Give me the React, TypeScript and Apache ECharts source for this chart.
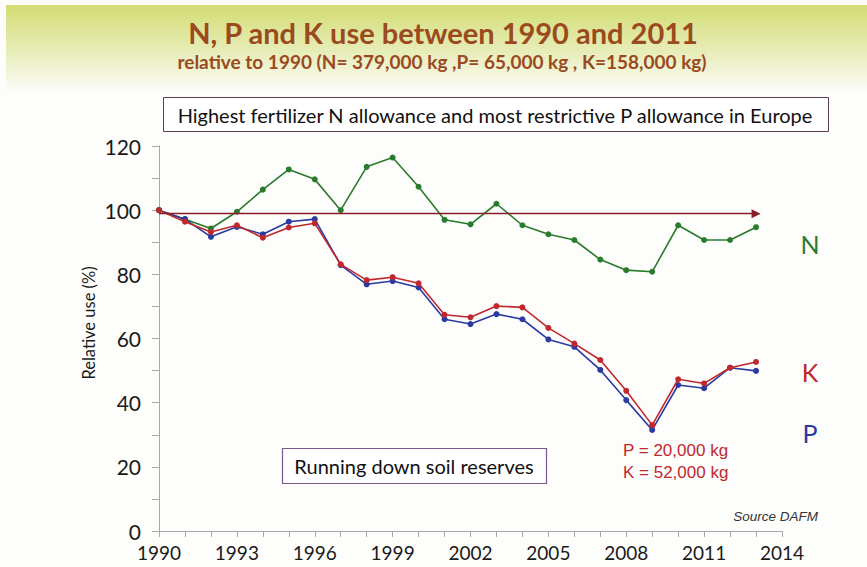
import React, { useEffect, useRef } from "react";
import * as echarts from "echarts";

const years = [
  "1990","1991","1992","1993","1994","1995","1996","1997","1998","1999","2000","2001",
  "2002","2003","2004","2005","2006","2007","2008","2009","2010","2011","2012","2013","2014",
];
const nValues = [
  100, 97.2, 94.3, 99.5, 106.4, 112.7, 109.6, 100, 113.5, 116.4, 107.3, 97,
  95.6, 102, 95.3, 92.5, 90.7, 84.6, 81.3, 80.8, 95.3, 90.7, 90.7, 94.7,
];
const pValues = [
  100, 97.2, 91.7, 94.8, 92.5, 96.4, 97.2, 82.9, 76.9, 77.9, 75.9, 66,
  64.5, 67.6, 66, 59.7, 57.4, 50.2, 40.8, 31.5, 45.5, 44.5, 50.9, 49.9,
];
const kValues = [
  100, 96.4, 93.2, 95.3, 91.4, 94.6, 95.9, 83.1, 78.2, 79.1, 77.2, 67.4,
  66.6, 70.1, 69.7, 63.3, 58.4, 53.3, 43.7, 33, 47.3, 46, 50.9, 52.7,
];
const referenceLevel = 98.9;

const GREEN = "#2a7b2c";
const RED = "#c0282e";
const BLUE = "#2b3a9f";
const BROWN = "#9a4a1e";
const FONT = "Lato";

export default function App() {
  const ref = useRef<HTMLDivElement>(null);
  useEffect(() => {
    document.body.style.margin = "0";
    const chart = echarts.init(ref.current!, null, { renderer: "svg" });
    const lineSeries = (name: string, data: number[], color: string, z: number) => ({
      name,
      type: "line",
      data,
      z,
      symbol: "circle",
      symbolSize: 6,
      lineStyle: { color, width: 1.6 },
      itemStyle: { color },
    });
    chart.setOption({
      animation: false,
      backgroundColor: "#fdfdfb",
      grid: { left: 159, right: 85, top: 146, bottom: 36, containLabel: false },
      xAxis: {
        type: "category",
        data: years,
        boundaryGap: false,
        axisLine: { lineStyle: { color: "#a8a8a8", width: 1 } },
        axisTick: { show: true, interval: 0, length: 6, lineStyle: { color: "#a8a8a8" } },
        axisLabel: {
          interval: 2,
          fontFamily: FONT,
          fontSize: 19,
          color: "#1a1a1a",
          margin: 12,
        },
        splitLine: { show: false },
      },
      yAxis: {
        type: "value",
        min: 0,
        max: 120,
        interval: 20,
        axisLine: { show: true, lineStyle: { color: "#a8a8a8", width: 1 } },
        axisTick: { show: true, length: 7, lineStyle: { color: "#a8a8a8" } },
        minorTick: { show: true, splitNumber: 2, length: 7, lineStyle: { color: "#a8a8a8" } },
        axisLabel: { fontFamily: FONT, fontSize: 21, color: "#1a1a1a", margin: 18 },
        splitLine: { show: false },
      },
      series: [
        {
          ...lineSeries("N", nValues, GREEN, 2),
          markLine: {
            silent: true,
            symbol: ["none", "triangle"],
            symbolSize: 9,
            symbolOffset: [0, 0],
            label: { show: false },
            lineStyle: { color: "#8a1c2a", width: 1.4, type: "solid" },
            data: [[{ coord: [0, referenceLevel] }, { coord: [23, referenceLevel] }]],
          },
        },
        lineSeries("P", pValues, BLUE, 3),
        lineSeries("K", kValues, RED, 4),
      ],
      graphic: [
        {
          type: "rect",
          z: -10,
          silent: true,
          shape: { x: 6, y: 5, width: 861, height: 88 },
          style: {
            fill: new echarts.graphic.LinearGradient(0, 0, 0, 1, [
              { offset: 0, color: "#d3dc74" },
              { offset: 0.5, color: "#e6ecb4" },
              { offset: 1, color: "#fdfdfb" },
            ]),
          },
        },
        {
          type: "text",
          x: 443,
          y: 32,
          style: {
            text: "N, P and K use between 1990 and 2011",
            fill: BROWN,
            font: `bold 29px ${FONT}`,
            align: "center",
            verticalAlign: "middle",
          },
        },
        {
          type: "text",
          x: 442,
          y: 61,
          style: {
            text: "relative to 1990 (N= 379,000 kg ,P= 65,000 kg , K=158,000 kg)",
            fill: BROWN,
            font: `bold 19px ${FONT}`,
            align: "center",
            verticalAlign: "middle",
          },
        },
        {
          type: "rect",
          shape: { x: 163.5, y: 97.5, width: 665, height: 34 },
          style: { fill: "#ffffff", stroke: "#5a3d52", lineWidth: 1 },
        },
        {
          type: "text",
          x: 495,
          y: 115,
          style: {
            text: "Highest fertilizer N allowance and most restrictive P allowance in Europe",
            fill: "#111111",
            font: `20px ${FONT}`,
            align: "center",
            verticalAlign: "middle",
          },
        },
        {
          type: "rect",
          shape: { x: 282.5, y: 448.5, width: 264, height: 35 },
          style: { fill: "#ffffff", stroke: "#7a5a8e", lineWidth: 1.2 },
        },
        {
          type: "text",
          x: 414,
          y: 466,
          style: {
            text: "Running down soil reserves",
            fill: "#111111",
            font: `20px ${FONT}`,
            align: "center",
            verticalAlign: "middle",
          },
        },
        {
          type: "text",
          x: 623,
          y: 450,
          style: {
            text: "P = 20,000 kg",
            fill: RED,
            font: `17px "Liberation Sans"`,
            align: "left",
            verticalAlign: "middle",
          },
        },
        {
          type: "text",
          x: 623,
          y: 472,
          style: {
            text: "K = 52,000 kg",
            fill: RED,
            font: `17px "Liberation Sans"`,
            align: "left",
            verticalAlign: "middle",
          },
        },
        {
          type: "text",
          x: 818,
          y: 516,
          style: {
            text: "Source DAFM",
            fill: "#333333",
            font: `italic 13.5px "Liberation Sans"`,
            align: "right",
            verticalAlign: "middle",
          },
        },
        {
          type: "text",
          x: 810,
          y: 244,
          style: { text: "N", fill: GREEN, font: `25px ${FONT}`, align: "center", verticalAlign: "middle" },
        },
        {
          type: "text",
          x: 810,
          y: 372,
          style: { text: "K", fill: RED, font: `25px ${FONT}`, align: "center", verticalAlign: "middle" },
        },
        {
          type: "text",
          x: 810,
          y: 433,
          style: { text: "P", fill: BLUE, font: `25px ${FONT}`, align: "center", verticalAlign: "middle" },
        },
        {
          type: "text",
          x: 89,
          y: 323,
          rotation: Math.PI / 2,
          style: {
            text: "Relative use (%)",
            fill: "#1a1a1a",
            font: `16.5px ${FONT}`,
            align: "center",
            verticalAlign: "middle",
          },
        },
      ],
    });
    return () => chart.dispose();
  }, []);
  return <div ref={ref} style={{ width: 867, height: 567 }} />;
}
